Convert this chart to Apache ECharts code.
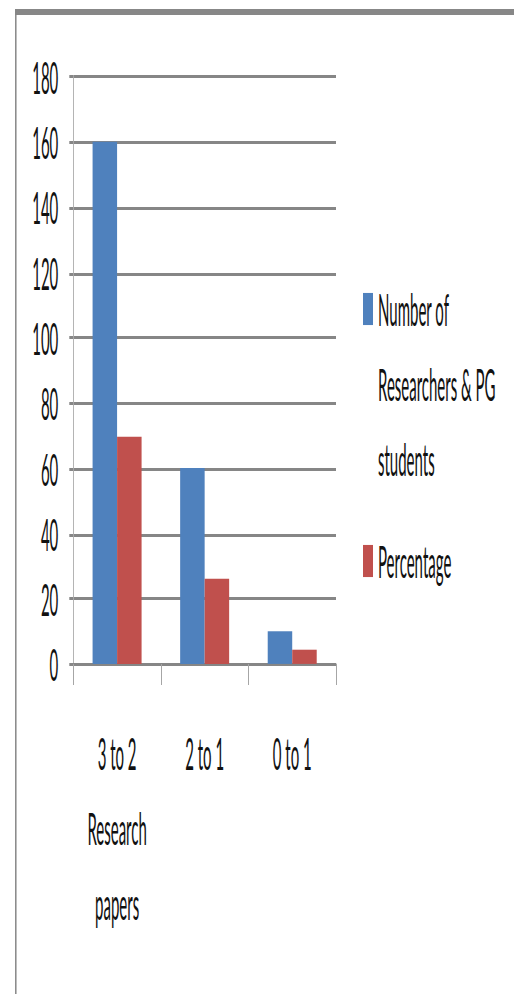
<!DOCTYPE html>
<html>
<head>
<meta charset="utf-8">
<script src="https://cdn.jsdelivr.net/npm/echarts@6/dist/echarts.min.js"></script>
<style>
  html, body { margin: 0; padding: 0; background: #fff; overflow: hidden; }
  #wrap { width: 514px; height: 994px; overflow: hidden; position: relative; background: #fff; }
  /* the chart is laid out at one third of the height and stretched vertically */
  #chart { width: 514px; height: 332px; transform: scaleY(3); transform-origin: 0 0; }
</style>
</head>
<body>
<div id="wrap"><div id="chart"></div></div>
<script>
// Papers published per person, grouped by range
const categories = ['3 to 2\nResearch\npapers', '2 to 1', '0 to 1'];
const seriesNames = ['Number of Researchers & PG students', 'Percentage'];
// two leading blank lines keep the swatch level with the first line of text
const legendLabels = ['\n\nNumber of\nResearchers & PG\nstudents', 'Percentage'];
const researchers = [160, 60, 10];
const percentage = [69.57, 26.09, 4.35];
const yMin = 0, yMax = 180, yStep = 20;

const FONT = 'Lato, "Open Sans", sans-serif';
const GRID_GRAY = '#868686';
const TEXT = '#111';
const colors = ['#4f81bd', '#c0504d'];

const chart = echarts.init(document.getElementById('chart'), null, { renderer: 'svg' });

chart.setOption({
  animation: false,
  backgroundColor: '#ffffff',
  textStyle: { fontFamily: FONT },
  grid: { left: 73.3, top: 25.5, width: 262.7, height: 195.8, containLabel: false },
  graphic: [
    { type: 'line', silent: true, shape: { x1: 15, y1: 4, x2: 514, y2: 4 },
      style: { stroke: '#878787', lineWidth: 2 } },
    { type: 'line', silent: true, shape: { x1: 15.8, y1: 3, x2: 15.8, y2: 332 },
      style: { stroke: '#878787', lineWidth: 1.5 } }
  ],
  legend: [
    {
      data: [seriesNames[0]],
      left: 363, top: 40.5, padding: 0,
      icon: 'rect', itemWidth: 10, itemHeight: 10.7,
      formatter: () => legendLabels[0],
      textStyle: { fontFamily: FONT, fontSize: 15, lineHeight: 25, color: TEXT },
      selectedMode: false
    },
    {
      data: [seriesNames[1]],
      left: 363, top: 174.5, padding: 0,
      icon: 'rect', itemWidth: 10, itemHeight: 10.7,
      formatter: () => legendLabels[1],
      textStyle: { fontFamily: FONT, fontSize: 15, lineHeight: 25, color: TEXT },
      selectedMode: false
    }
  ],
  xAxis: {
    type: 'category',
    data: categories,
    boundaryGap: true,
    axisLine: { show: true, lineStyle: { color: GRID_GRAY, width: 1 } },
    axisTick: { show: true, interval: 0, length: 7, lineStyle: { color: '#a6a6a6', width: 1 } },
    axisLabel: { interval: 0, margin: 17, fontFamily: FONT, fontSize: 15, lineHeight: 25, color: TEXT }
  },
  yAxis: {
    type: 'value',
    min: yMin, max: yMax, interval: yStep,
    axisLine: { show: true, lineStyle: { color: '#b4b4b4', width: 1 } },
    axisTick: { show: true, length: 4, lineStyle: { color: GRID_GRAY, width: 1 } },
    axisLabel: { margin: 15, fontFamily: FONT, fontSize: 15, color: TEXT, padding: [0, 0, 2, 0] },
    splitLine: { show: true, lineStyle: { color: GRID_GRAY, width: 1 } }
  },
  series: [
    { name: seriesNames[0], type: 'bar', data: researchers, barWidth: 24.5, barGap: '0%',
      itemStyle: { color: colors[0] } },
    { name: seriesNames[1], type: 'bar', data: percentage, barWidth: 24.5, barGap: '0%',
      itemStyle: { color: colors[1] } }
  ]
});
</script>
</body>
</html>
